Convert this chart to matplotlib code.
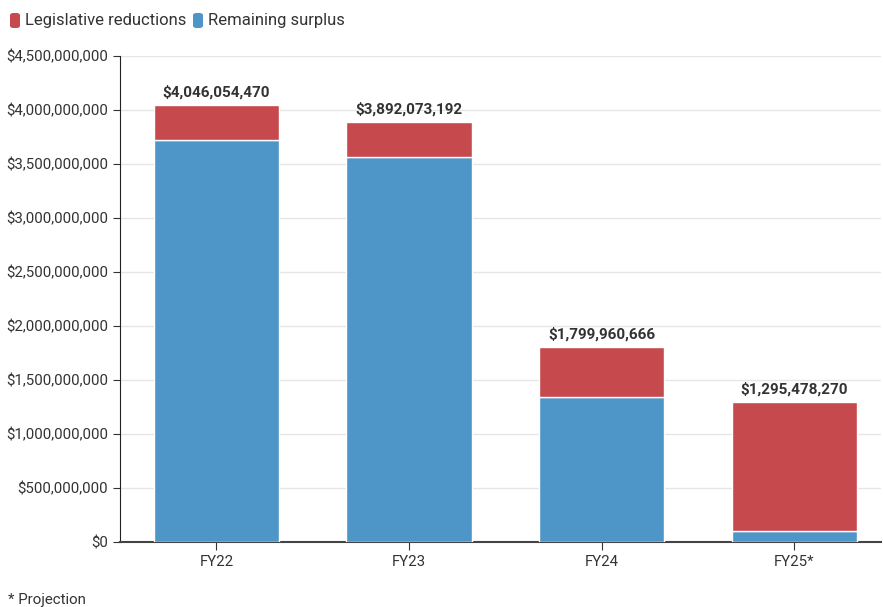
import numpy as np
import matplotlib.pyplot as plt
from matplotlib.ticker import FuncFormatter
from matplotlib.patches import FancyBboxPatch

plt.rcParams['font.family'] = ['Roboto', 'DejaVu Sans']

# Data
years = ['FY22', 'FY23', 'FY24', 'FY25*']
totals = [4046054470, 3892073192, 1799960666, 1295478270]
remaining = [3.725e9, 3.567e9, 1.344e9, 0.100e9]
reductions = [t - r for t, r in zip(totals, remaining)]

red = '#c64a4d'
blue = '#4e95c8'

fig = plt.figure(figsize=(8.83, 6.07), dpi=100)
ax = fig.add_axes([0.1359, 0.1079, 0.862, 0.7998])

x = np.arange(len(years))
ax.bar(x, remaining, width=0.65, color=blue, edgecolor='white', linewidth=1, zorder=3)
ax.bar(x, reductions, bottom=remaining, width=0.65, color=red, edgecolor='white', linewidth=1, zorder=3)

for xi, t in zip(x, totals):
    ax.text(xi, t + 0.05e9, f'${t:,.0f}', ha='center', va='bottom',
            fontsize=11, fontweight='bold', color='#333333')

ax.set_xlim(-0.5, 3.45)
ax.set_ylim(0, 4.5e9)
ax.set_yticks(np.arange(0, 4.51e9, 0.5e9))
ax.yaxis.set_major_formatter(FuncFormatter(lambda v, p: f'${v:,.0f}'))
ax.set_xticks(x)
ax.set_xticklabels(years)
ax.tick_params(axis='both', labelsize=10.8, colors='#333333', length=5)
ax.tick_params(axis='x', length=6, color='#333333')

ax.grid(axis='y', color='#e6e6e6', linewidth=1, zorder=0)
ax.set_axisbelow(True)
for s in ['top', 'right']:
    ax.spines[s].set_visible(False)
ax.spines['left'].set_color('#222222')
ax.spines['bottom'].set_color('#444444')
ax.spines['bottom'].set_linewidth(1.5)

# Legend
for lab, col, x0 in [('Legislative reductions', red, 10), ('Remaining surplus', blue, 193)]:
    box = FancyBboxPatch((x0 / 883, 1 - 28 / 607), 10 / 883, 15 / 607,
                         boxstyle='round,pad=0,rounding_size=0.004',
                         transform=fig.transFigure, facecolor=col, edgecolor='none')
    fig.patches.append(box)
    fig.text((x0 + 15) / 883, 1 - 21 / 607, lab, fontsize=12, color='#333333', va='center')

fig.text(8 / 883, 1 - 600 / 607, '* Projection', fontsize=10.8, color='#333333', va='center')

fig.savefig('out.png', dpi=100)
